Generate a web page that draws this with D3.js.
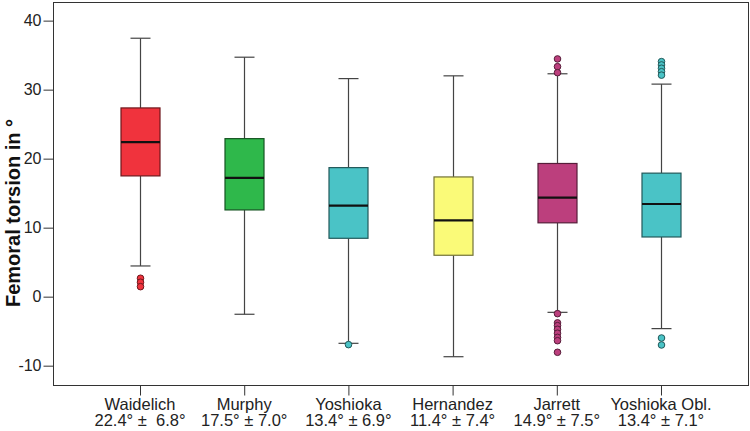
<!DOCTYPE html>
<html>
<head>
<meta charset="utf-8">
<script src="https://cdn.jsdelivr.net/npm/d3@7"></script>
<style>
  html, body { margin: 0; padding: 0; background: #fff; }
  svg { display: block; font-family: "Liberation Sans", Arial, Helvetica, sans-serif; }
</style>
</head>
<body>
<svg id="chart" width="750" height="431"></svg>
<script>
// ---- data ----
const categories = ["Waidelich", "Murphy", "Yoshioka", "Hernandez", "Jarrett", "Yoshioka Obl."];
const subLabels = ["22.4\u00B0 \u00B1  6.8\u00B0", "17.5\u00B0 \u00B1 7.0\u00B0", "13.4\u00B0 \u00B1 6.9\u00B0", "11.4\u00B0 \u00B1 7.4\u00B0", "14.9\u00B0 \u00B1 7.5\u00B0", "13.4\u00B0 \u00B1 7.1\u00B0"];
const whiskerLow  = [4.45, -2.55, -6.76, -8.7, -2.27, -4.63];
const q1          = [17.5, 12.57, 8.46, 6.0, 10.7, 8.65];
const medians     = [22.4, 17.2, 13.2, 11.07, 14.35, 13.43];
const q3          = [27.35, 22.9, 18.7, 17.35, 19.3, 17.9];
const whiskerHigh = [37.45, 34.7, 31.6, 32.0, 32.3, 30.8];
const outliers = [
  [2.67, 2.09, 1.45],
  [],
  [-6.95],
  [],
  [34.45, 33.33, 32.46, -2.46, -3.8, -4.2, -4.73, -5.3, -5.9, -6.38, -8.06],
  [34.06, 33.58, 33.1, 32.6, 32.1, -5.99, -7.0]
];
const yTicks = [-10, 0, 10, 20, 30, 40];
const colors = ["#f0333d", "#2fb84b", "#4ac3c6", "#fafa78", "#bc3f7d", "#4ac3c6"];
const yTitle = "Femoral torsion in \u00B0";

// ---- layout ----
const plotLeft = 53, plotRight = 748, plotTop = 2, plotBottom = 385;
const svg = d3.select("#chart");

const x = d3.scalePoint().domain(categories).range([plotLeft, plotRight]).padding(0.835);
const y = d3.scaleLinear().domain([-12.8, 42.7]).range([plotBottom, plotTop]);

const boxW = 39, capW = 20;

// frame
svg.append("rect")
  .attr("x", plotLeft + 0.5).attr("y", plotTop + 0.5)
  .attr("width", plotRight - plotLeft).attr("height", plotBottom - plotTop)
  .attr("fill", "none").attr("stroke", "#333").attr("stroke-width", 1);

// y axis
const yAxis = svg.append("g")
  .attr("transform", `translate(${plotLeft + 0.5},0)`)
  .call(d3.axisLeft(y).tickValues(yTicks).tickSize(10).tickPadding(2).tickFormat(d => String(d)));
yAxis.select(".domain").remove();
yAxis.selectAll(".tick line").attr("stroke", "#333");
yAxis.selectAll(".tick text").attr("fill", "#222").style("font-size", "16px");

// x axis
const xAxis = svg.append("g")
  .attr("transform", `translate(0,${plotBottom + 0.5})`)
  .call(d3.axisBottom(x).tickSize(10).tickFormat(""));
xAxis.select(".domain").remove();
xAxis.selectAll(".tick line").attr("stroke", "#333");

// x labels (two lines)
const lab = svg.append("g");
categories.forEach((c, i) => {
  const t = lab.append("text")
    .attr("x", x(c)).attr("text-anchor", "middle")
    .attr("fill", "#222").style("font-size", "16.5px").style("white-space", "pre");
  t.append("tspan").attr("x", x(c)).attr("y", 410).text(c);
  t.append("tspan").attr("x", x(c)).attr("y", 426).text(subLabels[i]);
});

// y title
svg.append("text")
  .attr("transform", `translate(20,213) rotate(-90)`)
  .attr("text-anchor", "middle")
  .attr("fill", "#111")
  .style("font-size", "20px").style("font-weight", "bold")
  .text(yTitle);

// boxes
const g = svg.append("g");
categories.forEach((c, i) => {
  const cx = Math.round(x(c)) + 0.5;
  const col = colors[i];
  const stroke = d3.color(col).darker(2.2).formatHex();
  // whiskers
  g.append("line").attr("x1", cx).attr("x2", cx).attr("y1", y(whiskerHigh[i])).attr("y2", y(q3[i]))
    .attr("stroke", "#444").attr("stroke-width", 1.2);
  g.append("line").attr("x1", cx).attr("x2", cx).attr("y1", y(q1[i])).attr("y2", y(whiskerLow[i]))
    .attr("stroke", "#444").attr("stroke-width", 1.2);
  [whiskerHigh[i], whiskerLow[i]].forEach(v => {
    g.append("line").attr("x1", cx - capW / 2).attr("x2", cx + capW / 2)
      .attr("y1", y(v)).attr("y2", y(v))
      .attr("stroke", "#444").attr("stroke-width", 1.2);
  });
  // box
  g.append("rect")
    .attr("x", cx - boxW / 2).attr("y", y(q3[i]))
    .attr("width", boxW).attr("height", y(q1[i]) - y(q3[i]))
    .attr("fill", col).attr("stroke", stroke).attr("stroke-width", 1.2);
  // median
  g.append("line").attr("x1", cx - boxW / 2).attr("x2", cx + boxW / 2)
    .attr("y1", y(medians[i])).attr("y2", y(medians[i]))
    .attr("stroke", "#111").attr("stroke-width", 2.2);
  // outliers
  outliers[i].forEach(v => {
    g.append("circle").attr("cx", cx).attr("cy", y(v)).attr("r", 3.3)
      .attr("fill", col).attr("stroke", stroke).attr("stroke-width", 1);
  });
});
</script>
</body>
</html>
